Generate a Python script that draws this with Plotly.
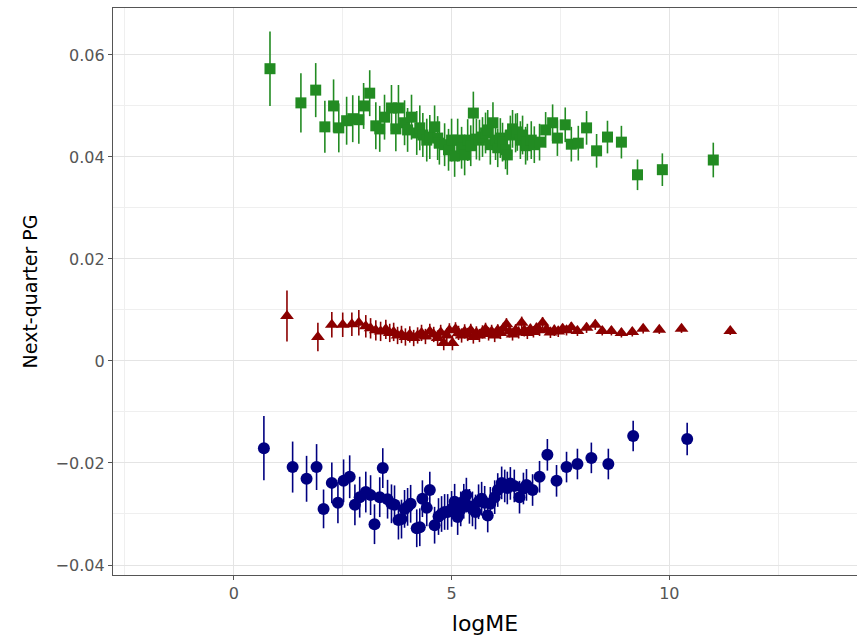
import plotly.graph_objects as go

# Green squares (top series)
green_x = [0.83, 1.54, 1.88, 2.09, 2.29, 2.41, 2.59, 2.73, 2.87, 2.98, 3.12, 3.26, 3.35, 3.46, 3.62,
           3.72, 3.78, 3.92, 3.99, 4.08, 4.20, 4.27, 4.34, 4.43, 4.50, 4.61, 4.68, 4.72, 4.84, 4.93,
           5.00, 5.07, 5.14, 5.23, 5.30, 5.37, 5.44, 5.50, 5.57, 5.64, 5.71, 5.78, 5.83, 5.89, 5.95,
           6.01, 6.06, 6.12, 6.17, 6.24, 6.28, 6.35, 6.40, 6.47, 6.51, 6.58, 6.63, 6.70, 6.74, 6.83,
           6.90, 7.02, 7.16, 7.32, 7.43, 7.61, 7.75, 7.91, 8.10, 8.33, 8.58, 8.90, 9.27, 9.84, 11.01]
green_y = [0.0573, 0.0506, 0.0531, 0.0459, 0.0500, 0.0457, 0.0471, 0.0475, 0.0473, 0.0500, 0.0525, 0.0461, 0.0455, 0.0478, 0.0496,
           0.0455, 0.0496, 0.0467, 0.0453, 0.0478, 0.0447, 0.0457, 0.0443, 0.0433, 0.0439, 0.0459, 0.0437, 0.0427, 0.0424, 0.0414,
           0.0433, 0.0402, 0.0433, 0.0418, 0.0404, 0.0433, 0.0422, 0.0486, 0.0435, 0.0433, 0.0439, 0.0447, 0.0453, 0.0424, 0.0467,
           0.0433, 0.0418, 0.0437, 0.0429, 0.0414, 0.0404, 0.0443, 0.0455, 0.0447, 0.0449, 0.0433, 0.0443, 0.0422, 0.0429, 0.0433,
           0.0424, 0.0429, 0.0453, 0.0467, 0.0437, 0.0463, 0.0425, 0.0427, 0.0457, 0.0412, 0.0439, 0.0429, 0.0365, 0.0375, 0.0394]
green_err = [0.0073, 0.0058, 0.0053, 0.0051, 0.0052, 0.0048, 0.0047, 0.0046, 0.0047, 0.0045, 0.0045, 0.0046, 0.0045, 0.0044, 0.0045,
             0.0044, 0.0045, 0.0044, 0.0043, 0.0044, 0.0043, 0.0044, 0.0043, 0.0042, 0.0043, 0.0042, 0.0043, 0.0042, 0.0042, 0.0041,
             0.0042, 0.0041, 0.0042, 0.0041, 0.0040, 0.0041, 0.0040, 0.0042, 0.0040, 0.0040, 0.0039, 0.0040, 0.0039, 0.0039, 0.0040,
             0.0039, 0.0038, 0.0039, 0.0038, 0.0038, 0.0039, 0.0038, 0.0037, 0.0038, 0.0037, 0.0037, 0.0038, 0.0037, 0.0036, 0.0037,
             0.0036, 0.0036, 0.0035, 0.0036, 0.0035, 0.0034, 0.0034, 0.0034, 0.0033, 0.0033, 0.0032, 0.0032, 0.0030, 0.0032, 0.0034]

# Dark red triangles (middle series)
red_x = [1.22, 1.93, 2.25, 2.50, 2.71, 2.87, 3.03, 3.14, 3.26, 3.37, 3.49, 3.58, 3.67, 3.76, 3.85,
         3.94, 4.04, 4.13, 4.22, 4.31, 4.40, 4.50, 4.59, 4.68, 4.75, 4.82, 4.89, 4.95, 5.02, 5.09,
         5.16, 5.23, 5.30, 5.37, 5.44, 5.50, 5.57, 5.64, 5.71, 5.78, 5.85, 5.92, 5.99, 6.06, 6.12,
         6.19, 6.26, 6.33, 6.40, 6.47, 6.54, 6.61, 6.67, 6.74, 6.81, 6.88, 6.95, 7.02, 7.09, 7.18,
         7.27, 7.36, 7.45, 7.55, 7.64, 7.75, 7.89, 8.10, 8.30, 8.46, 8.67, 8.90, 9.15, 9.40, 9.77,
         10.28, 11.40]
red_y = [0.0088, 0.0047, 0.0071, 0.0071, 0.0072, 0.0075, 0.0068, 0.0064, 0.0060, 0.0058, 0.0062, 0.0055, 0.0057, 0.0050, 0.0052,
         0.0047, 0.0052, 0.0045, 0.0050, 0.0055, 0.0048, 0.0058, 0.0052, 0.0045, 0.0056, 0.0035, 0.0050, 0.0060, 0.0035, 0.0062,
         0.0055, 0.0050, 0.0058, 0.0052, 0.0060, 0.0047, 0.0055, 0.0050, 0.0057, 0.0062, 0.0053, 0.0058, 0.0050, 0.0060, 0.0055,
         0.0063, 0.0072, 0.0058, 0.0052, 0.0060, 0.0056, 0.0075, 0.0060, 0.0055, 0.0062, 0.0057, 0.0064, 0.0060, 0.0075, 0.0062,
         0.0056, 0.0060, 0.0058, 0.0063, 0.0060, 0.0066, 0.0059, 0.0065, 0.0071, 0.0059, 0.0059, 0.0055, 0.0057, 0.0063, 0.0061,
         0.0063, 0.0059]
red_err = [0.0050, 0.0028, 0.0025, 0.0024, 0.0023, 0.0025, 0.0022, 0.0020, 0.0020, 0.0019, 0.0019, 0.0018, 0.0018, 0.0017, 0.0017,
           0.0017, 0.0016, 0.0016, 0.0016, 0.0016, 0.0015, 0.0015, 0.0015, 0.0015, 0.0015, 0.0014, 0.0014, 0.0014, 0.0014, 0.0014,
           0.0014, 0.0014, 0.0014, 0.0013, 0.0013, 0.0013, 0.0013, 0.0013, 0.0013, 0.0013, 0.0013, 0.0013, 0.0013, 0.0012, 0.0012,
           0.0012, 0.0012, 0.0012, 0.0012, 0.0012, 0.0012, 0.0012, 0.0012, 0.0012, 0.0011, 0.0011, 0.0011, 0.0011, 0.0011, 0.0011,
           0.0011, 0.0011, 0.0011, 0.0010, 0.0010, 0.0010, 0.0010, 0.0010, 0.0010, 0.0009, 0.0009, 0.0009, 0.0009, 0.0009, 0.0008,
           0.0008, 0.0008]

# Navy circles (bottom series)
blue_x = [0.69, 1.35, 1.67, 1.90, 2.06, 2.25, 2.39, 2.52, 2.66, 2.78, 2.89, 3.03, 3.14, 3.23, 3.35,
          3.42, 3.53, 3.62, 3.69, 3.78, 3.85, 3.92, 3.99, 4.06, 4.20, 4.27, 4.33, 4.43, 4.50, 4.61,
          4.70, 4.77, 4.84, 4.91, 5.00, 5.07, 5.14, 5.21, 5.28, 5.34, 5.41, 5.48, 5.55, 5.62, 5.69,
          5.76, 5.83, 5.89, 5.99, 6.06, 6.15, 6.22, 6.28, 6.35, 6.44, 6.56, 6.65, 6.72, 6.86, 7.02,
          7.20, 7.41, 7.64, 7.89, 8.21, 8.60, 9.17, 10.41]
blue_y = [-0.0171, -0.0208, -0.0231, -0.0208, -0.0290, -0.0239, -0.0278, -0.0235, -0.0227, -0.0282, -0.0267, -0.0257, -0.0263, -0.0320, -0.0267,
          -0.0210, -0.0271, -0.0280, -0.0282, -0.0312, -0.0310, -0.0290, -0.0286, -0.0280, -0.0328, -0.0326, -0.0270, -0.0288, -0.0253, -0.0322,
          -0.0305, -0.0300, -0.0296, -0.0296, -0.0290, -0.0276, -0.0306, -0.0290, -0.0275, -0.0263, -0.0285, -0.0290, -0.0296, -0.0276, -0.0270,
          -0.0278, -0.0303, -0.0280, -0.0267, -0.0253, -0.0239, -0.0245, -0.0249, -0.0240, -0.0245, -0.0267, -0.0250, -0.0243, -0.0253, -0.0227,
          -0.0184, -0.0235, -0.0208, -0.0202, -0.0190, -0.0202, -0.0147, -0.0153]
blue_err = [0.0063, 0.0050, 0.0045, 0.0045, 0.0038, 0.0040, 0.0040, 0.0042, 0.0042, 0.0040, 0.0040, 0.0040, 0.0039, 0.0039, 0.0039,
            0.0039, 0.0038, 0.0038, 0.0038, 0.0038, 0.0038, 0.0037, 0.0037, 0.0037, 0.0037, 0.0037, 0.0036, 0.0036, 0.0036, 0.0036,
            0.0036, 0.0035, 0.0035, 0.0035, 0.0035, 0.0035, 0.0035, 0.0034, 0.0034, 0.0034, 0.0034, 0.0034, 0.0034, 0.0034, 0.0033,
            0.0033, 0.0033, 0.0033, 0.0033, 0.0033, 0.0032, 0.0032, 0.0032, 0.0032, 0.0032, 0.0032, 0.0031, 0.0031, 0.0031, 0.0031,
            0.0031, 0.0031, 0.0030, 0.0030, 0.0030, 0.0030, 0.0030, 0.0032]

x_ticks = [0, 5, 10]
y_ticks = [-0.04, -0.02, 0, 0.02, 0.04, 0.06]
y_tick_labels = ["\u22120.04", "\u22120.02", "0", "0.02", "0.04", "0.06"]

FONT = "DejaVu Sans"
fig = go.Figure()

def add_series(x, y, err, color, symbol, size):
    fig.add_trace(go.Scatter(
        x=x, y=y, mode="markers",
        marker=dict(color=color, symbol=symbol, size=size, line=dict(width=0)),
        error_y=dict(type="data", array=err, visible=True, color=color, thickness=1.6, width=0),
        showlegend=False,
    ))

add_series(blue_x, blue_y, blue_err, "#000080", "circle", 12)
add_series(red_x, red_y, red_err, "#8B0000", "triangle-up", 12)
add_series(green_x, green_y, green_err, "#228B22", "square", 11)

fig.update_layout(
    width=858, height=641,
    margin=dict(l=113, r=1, t=8, b=66),
    paper_bgcolor="white", plot_bgcolor="white",
    font=dict(family=FONT, size=16, color="#4d4d4d"),
)
fig.update_xaxes(
    range=[-2.775, 14.31],
    tickvals=x_ticks, ticktext=[str(v) for v in x_ticks],
    showgrid=True, gridcolor="#e4e4e4", gridwidth=1.2,
    minor=dict(dtick=2.5, tick0=0, showgrid=True, gridcolor="#efefef", gridwidth=0.8, ticks=""),
    zeroline=False,
    showline=True, linecolor="#555555", linewidth=1.3, mirror=True,
    ticks="outside", ticklen=4, tickcolor="#555555", tickwidth=1.3,
    tickfont=dict(family=FONT, size=16, color="#555555"),
    title=dict(text="logME", font=dict(family=FONT, size=22, color="black"), standoff=13),
)
fig.update_yaxes(
    range=[-0.04196, 0.0692],
    tickvals=y_ticks, ticktext=y_tick_labels,
    showgrid=True, gridcolor="#e4e4e4", gridwidth=1.2,
    minor=dict(dtick=0.01, tick0=0, showgrid=True, gridcolor="#efefef", gridwidth=0.8, ticks=""),
    zeroline=False,
    showline=True, linecolor="#555555", linewidth=1.3, mirror=False,
    ticks="outside", ticklen=4, tickcolor="#555555", tickwidth=1.3,
    tickfont=dict(family=FONT, size=16, color="#555555"),
    title=dict(text="Next-quarter PG", font=dict(family=FONT, size=19, color="black"), standoff=12),
)

fig.write_html("out.html", config={"displayModeBar": False},
               post_script="document.body.style.margin='0';document.body.style.overflow='hidden';")
